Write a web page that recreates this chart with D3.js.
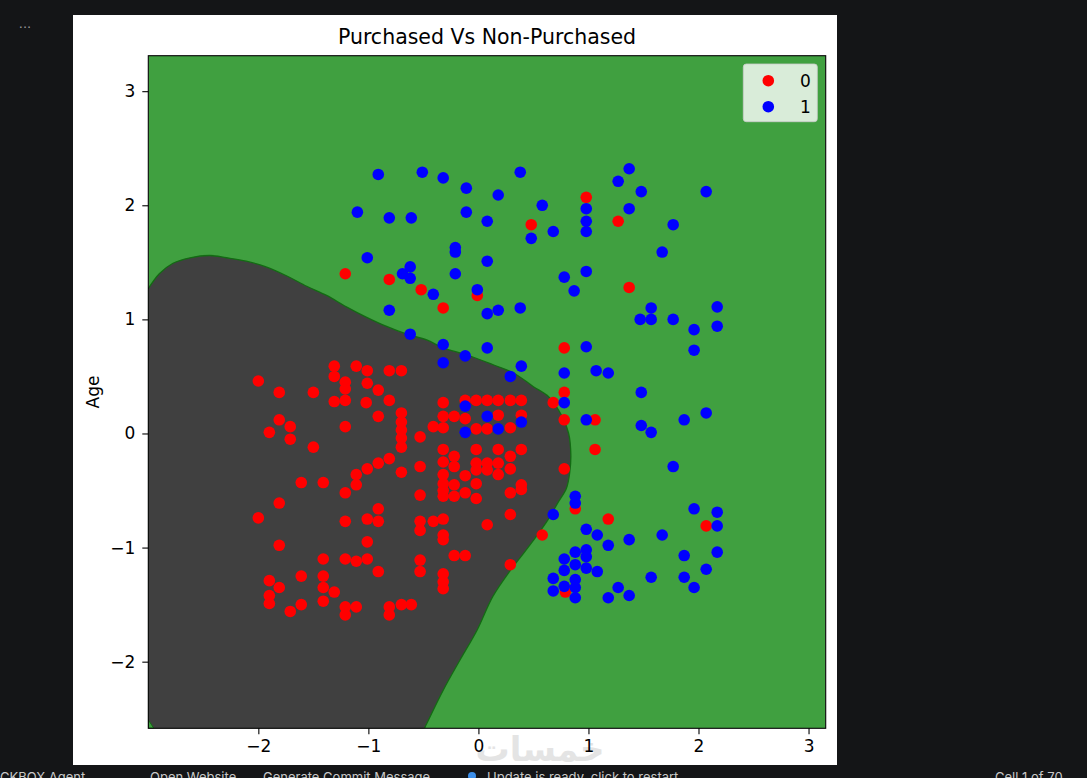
<!DOCTYPE html>
<html>
<head>
<meta charset="utf-8">
<script src="https://cdn.jsdelivr.net/npm/d3@7"></script>
<style>
  html, body { margin: 0; padding: 0; background: #141517; }
  svg { display: block; font-family: "DejaVu Sans", sans-serif; }
</style>
</head>
<body>
<svg id="chart" width="1087" height="778"></svg>
<script>
// Plot frame inside the (white) figure, in page pixels
const PLOT = { left: 148.3, top: 55.7, right: 825.7, bottom: 728.3 };
const FIG = { left: 73, top: 15, right: 837, bottom: 765 };

const xDomain = [-3.0, 3.156];
const yDomain = [-2.584, 3.311];
const xTicks = [-2, -1, 0, 1, 2, 3];
const yTicks = [-2, -1, 0, 1, 2, 3];

const classNames = ["0", "1"];
const classColors = ["#ff0000", "#0000ff"];

// class 0 (not purchased), [x, age]
const notPurchased = [
  [-2.00,0.46],[-1.81,0.36],[-1.50,0.36],[-1.31,0.59],[-1.31,0.50],[-1.21,0.45],[-1.21,0.39],[-1.31,0.28],[-1.21,0.29],[-1.11,0.59],
  [-1.01,0.55],[-1.01,0.44],[-0.91,0.38],[-1.02,0.27],[-0.81,0.55],[-0.70,0.55],[-0.81,0.29],[-0.91,0.15],[-0.70,0.18],[-0.70,0.10],
  [-0.70,0.03],[-0.70,-0.04],[-0.70,-0.12],[-0.53,-0.03],[-1.81,0.12],[-1.71,0.06],[-1.90,0.01],[-1.71,-0.05],[-1.50,-0.12],[-1.21,0.06],
  [-0.81,-0.22],[-0.91,-0.26],[-1.01,-0.31],[-1.11,-0.36],[-1.11,-0.45],[-1.21,-0.52],[-0.70,-0.34],[-0.53,-0.29],[-1.61,-0.43],[-1.41,-0.43],
  [-1.81,-0.61],[-2.00,-0.74],[-1.21,-0.77],[-1.01,-0.75],[-0.91,-0.66],[-0.91,-0.77],[-0.53,-0.54],[-0.53,-0.77],[-0.53,-0.85],[-1.81,-0.98],
  [-1.01,-0.95],[-1.41,-1.10],[-1.21,-1.10],[-1.11,-1.12],[-1.01,-1.10],[-0.91,-1.21],[-0.53,-1.11],[-0.53,-1.21],[-1.61,-1.25],[-1.41,-1.25],
  [-1.90,-1.29],[-1.81,-1.35],[-1.90,-1.42],[-1.90,-1.49],[-1.41,-1.35],[-1.31,-1.39],[-1.41,-1.47],[-1.61,-1.50],[-1.71,-1.56],[-1.21,-1.52],
  [-1.21,-1.59],[-1.11,-1.52],[-0.81,-1.52],[-0.81,-1.59],[-0.70,-1.50],[-0.61,-1.50],
  [-0.32,0.27],[-0.12,0.29],[-0.02,0.29],[0.08,0.29],[0.18,0.29],[0.29,0.29],[0.39,0.29],[-0.32,0.15],[-0.22,0.15],[-0.12,0.13],
  [0.18,0.16],[0.39,0.16],[-0.41,0.06],[-0.32,0.05],[-0.02,0.04],[0.08,0.04],[0.29,0.05],[-0.32,-0.14],[-0.02,-0.14],[0.18,-0.14],
  [0.39,-0.14],[-0.22,-0.20],[0.29,-0.20],[-0.32,-0.25],[-0.22,-0.29],[-0.02,-0.26],[0.08,-0.26],[0.18,-0.26],[0.29,-0.31],[-0.02,-0.32],
  [0.08,-0.32],[0.18,-0.36],[-0.32,-0.36],[-0.12,-0.37],[-0.32,-0.44],[-0.22,-0.45],[-0.02,-0.44],[0.39,-0.45],[-0.32,-0.55],[-0.22,-0.55],
  [-0.12,-0.52],[-0.02,-0.57],[0.29,-0.52],[0.39,-0.49],[-0.32,-0.50],[0.78,-0.31],[0.29,-0.71],[0.08,-0.80],[-0.41,-0.77],[-0.32,-0.75],
  [-0.32,-0.89],[-0.32,-0.93],[-0.22,-1.07],[-0.12,-1.07],[-0.32,-1.23],[-0.32,-1.30],[-0.32,-1.36],[0.29,-1.15],[0.58,-0.89],[0.78,0.36],
  [0.68,0.27],[0.78,0.12],[1.06,0.12],[1.06,-0.14],[0.88,-0.66],[0.79,-1.39],[0.78,0.75],
  [-0.52,1.26],[-0.32,1.10],[-0.01,1.21],[1.37,1.28],[-1.21,1.40],[-0.81,1.35],[0.48,1.83],[0.98,2.07],[1.27,1.86],[1.18,-0.75],[2.07,-0.81]
];

// class 1 (purchased), [x, age]
const purchased = [
  [-0.32,0.62],[-0.12,0.68],[0.08,0.75],[0.39,0.59],[0.29,0.50],[0.78,0.53],[1.07,0.55],[1.18,0.53],[0.98,0.76],[0.78,0.27],
  [-0.12,0.24],[0.08,0.15],[0.39,0.10],[0.18,0.04],[-0.12,0.01],[0.98,0.12],[0.88,-0.55],[0.88,-0.61],[0.68,-0.71],[0.98,-0.84],
  [1.08,-0.89],[0.88,-1.04],[0.98,-1.02],[0.78,-1.10],[0.98,-1.08],[0.88,-1.15],[0.98,-1.18],[1.08,-1.21],[0.78,-1.20],[0.68,-1.27],
  [0.88,-1.28],[0.78,-1.34],[0.88,-1.35],[0.68,-1.38],[0.88,-1.44],
  [-0.21,1.63],[-0.21,1.59],[1.67,1.59],[-0.62,1.46],[-0.69,1.40],[-0.62,1.36],[-0.21,1.40],[0.08,1.51],[-0.41,1.22],[-0.01,1.26],
  [0.08,1.05],[0.18,1.08],[0.38,1.10],[0.78,1.37],[0.87,1.25],[0.98,1.42],[-0.62,0.87],[-0.32,0.78],[1.57,1.10],[1.47,1.00],
  [1.57,1.00],[1.77,1.00],[1.96,0.91],[1.96,0.73],[1.48,0.36],[1.87,0.12],[1.48,0.07],[1.57,0.01],[1.77,-0.29],
  [-0.91,2.27],[-0.51,2.29],[-0.32,2.24],[-0.11,2.15],[0.18,2.09],[0.38,2.29],[-1.10,1.94],[-0.81,1.89],[-0.61,1.89],[-0.11,1.94],
  [0.08,1.86],[0.58,2.00],[0.48,1.71],[0.68,1.77],[0.98,1.97],[0.98,1.86],[0.98,1.77],[1.27,2.21],[1.37,2.32],[1.48,2.12],
  [1.37,1.97],[1.77,1.83],[-1.01,1.54],[-0.81,1.08],
  [2.07,2.12],[2.17,1.11],[2.17,0.94],[2.07,0.18],[1.96,-0.66],[2.17,-0.69],[2.17,-0.81],[2.17,-1.04],[2.07,-1.19],[1.18,-0.98],
  [1.37,-0.93],[1.67,-0.89],[1.87,-1.07],[1.87,-1.26],[1.96,-1.35],[1.57,-1.26],[1.27,-1.35],[1.37,-1.42],[1.18,-1.44]
];

// decision boundary, left edge -> bottom edge
const boundary = [
  [-3.00,1.27],[-2.90,1.40],[-2.78,1.49],[-2.62,1.54],[-2.44,1.56],[-2.29,1.54],[-2.11,1.51],[-1.93,1.46],[-1.74,1.38],
  [-1.56,1.29],[-1.38,1.21],[-1.20,1.11],[-1.02,1.02],[-0.84,0.94],[-0.65,0.87],[-0.47,0.82],[-0.32,0.75],[-0.11,0.69],
  [0.14,0.60],[0.32,0.53],[0.50,0.41],[0.64,0.32],[0.76,0.15],[0.82,0.00],[0.84,-0.19],[0.83,-0.34],[0.80,-0.48],
  [0.72,-0.61],[0.63,-0.76],[0.52,-0.91],[0.41,-1.05],[0.29,-1.20],[0.13,-1.43],[-0.01,-1.72],[-0.17,-1.99],[-0.32,-2.25],[-0.49,-2.584]
];
// tiny green sliver in the bottom-left corner
const cornerPatch = [[-3.0,-2.51],[-2.95,-2.584],[-3.0,-2.584]];

const svg = d3.select("#chart");

// figure background
svg.append("rect")
  .attr("x", FIG.left).attr("y", FIG.top)
  .attr("width", FIG.right - FIG.left).attr("height", FIG.bottom - FIG.top)
  .attr("fill", "#ffffff");

const x = d3.scaleLinear(xDomain, [PLOT.left, PLOT.right]);
const y = d3.scaleLinear(yDomain, [PLOT.bottom, PLOT.top]);

svg.append("defs").append("clipPath").attr("id", "plot-clip")
  .append("rect")
  .attr("x", PLOT.left).attr("y", PLOT.top)
  .attr("width", PLOT.right - PLOT.left).attr("height", PLOT.bottom - PLOT.top);

const plot = svg.append("g").attr("clip-path", "url(#plot-clip)");

// green = class 1 region
plot.append("rect")
  .attr("x", PLOT.left).attr("y", PLOT.top)
  .attr("width", PLOT.right - PLOT.left).attr("height", PLOT.bottom - PLOT.top)
  .attr("fill", "#40a040");

const curve = d3.line().x(d => x(d[0])).y(d => y(d[1])).curve(d3.curveCatmullRom);

// dark = class 0 region
const last = boundary[boundary.length - 1];
plot.append("path")
  .attr("d", curve(boundary) + `L${x(last[0])},${y(yDomain[0]) + 2}L${x(xDomain[0]) - 2},${y(yDomain[0]) + 2}Z`)
  .attr("fill", "#404040");

plot.append("path")
  .attr("d", curve(boundary))
  .attr("fill", "none")
  .attr("stroke", "#136b13")
  .attr("stroke-width", 1.3);

plot.append("path")
  .attr("d", d3.line().x(d => x(d[0])).y(d => y(d[1]))(cornerPatch) + "Z")
  .attr("fill", "#40a040")
  .attr("stroke", "#136b13")
  .attr("stroke-width", 1);

// scatter
const groups = [notPurchased, purchased];
groups.forEach((pts, i) => {
  plot.append("g").selectAll("circle")
    .data(pts)
    .join("circle")
    .attr("cx", d => x(d[0]))
    .attr("cy", d => y(d[1]))
    .attr("r", 5.8)
    .attr("fill", classColors[i]);
});

// frame
svg.append("rect")
  .attr("x", PLOT.left).attr("y", PLOT.top)
  .attr("width", PLOT.right - PLOT.left).attr("height", PLOT.bottom - PLOT.top)
  .attr("fill", "none").attr("stroke", "#000").attr("stroke-width", 1.1);

// watermark
svg.append("text")
  .attr("x", 540).attr("y", 761)
  .attr("text-anchor", "middle")
  .attr("font-size", 34)
  .attr("font-weight", 700)
  .attr("fill", "#e4e4e4")
  .text("خمسات");

// axes
const fmt = d3.format("d");
const xAxis = svg.append("g")
  .attr("transform", `translate(0,${PLOT.bottom})`)
  .call(d3.axisBottom(x).tickValues(xTicks).tickFormat(fmt).tickSize(6).tickPadding(6));
const yAxis = svg.append("g")
  .attr("transform", `translate(${PLOT.left},0)`)
  .call(d3.axisLeft(y).tickValues(yTicks).tickFormat(fmt).tickSize(6).tickPadding(7));
[xAxis, yAxis].forEach(g => {
  g.select(".domain").remove();
  g.selectAll("line").attr("stroke", "#000").attr("stroke-width", 1.1);
  g.selectAll("text").attr("font-size", 17).attr("font-family", "DejaVu Sans, sans-serif").attr("fill", "#000");
});

// title and label
svg.append("text")
  .attr("x", (PLOT.left + PLOT.right) / 2).attr("y", 44)
  .attr("text-anchor", "middle")
  .attr("font-size", 20.5)
  .attr("fill", "#000")
  .text("Purchased Vs Non-Purchased");

svg.append("text")
  .attr("transform", `translate(99,${(PLOT.top + PLOT.bottom) / 2}) rotate(-90)`)
  .attr("text-anchor", "middle")
  .attr("font-size", 17)
  .attr("fill", "#000")
  .text("Age");

// legend
const lg = svg.append("g").attr("transform", "translate(743.3,64)");
lg.append("rect")
  .attr("width", 74).attr("height", 57.7).attr("rx", 3)
  .attr("fill", "#ffffff").attr("fill-opacity", 0.8)
  .attr("stroke", "#cccccc").attr("stroke-opacity", 0.8);
classNames.forEach((name, i) => {
  lg.append("circle")
    .attr("cx", 25).attr("cy", 16.7 + i * 26)
    .attr("r", 5.8).attr("fill", classColors[i]);
  lg.append("text")
    .attr("x", 62).attr("y", 16.7 + i * 26)
    .attr("dy", "0.35em")
    .attr("text-anchor", "middle")
    .attr("font-size", 17)
    .attr("fill", "#000")
    .text(name);
});

// editor chrome around the figure
svg.append("text")
  .attr("x", 25).attr("y", 28)
  .attr("text-anchor", "middle")
  .attr("font-size", 13)
  .attr("fill", "#9a9a9a")
  .text("...");

const statusItems = [
  { x: 0, t: "CKBOX Agent" },
  { x: 150, t: "Open Website" },
  { x: 263, t: "Generate Commit Message" },
  { x: 487, t: "Update is ready, click to restart" },
  { x: 995, t: "Cell 1 of 70" }
];
svg.append("g").selectAll("text")
  .data(statusItems)
  .join("text")
  .attr("x", d => d.x).attr("y", 782)
  .attr("font-size", 13)
  .attr("font-family", "Inter, sans-serif")
  .attr("fill", "#c8c8c8")
  .text(d => d.t);
svg.append("circle").attr("cx", 472).attr("cy", 776).attr("r", 4).attr("fill", "#3b8eea");
</script>
</body>
</html>
